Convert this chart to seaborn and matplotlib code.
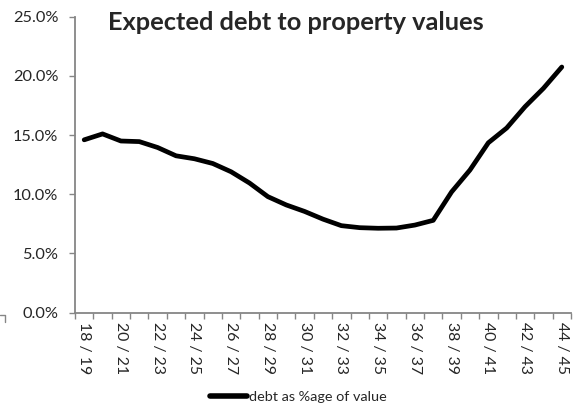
import numpy as np
import pandas as pd
import matplotlib
matplotlib.use('Agg')
import matplotlib.pyplot as plt
from matplotlib.lines import Line2D
import seaborn as sns

# financial years 18/19 .. 44/45
years = [str(y) + ' / ' + str(y + 1) for y in range(18, 45)]
debt_pct = [14.6, 15.1, 14.5, 14.45, 13.95, 13.25, 13.0, 12.6, 11.9, 10.95,
            9.8, 9.1, 8.55, 7.9, 7.35, 7.18, 7.13, 7.15, 7.4, 7.8,
            10.2, 12.05, 14.35, 15.6, 17.4, 18.95, 20.75]
series_name = 'debt as %age of value'

df = pd.DataFrame({'pos': np.arange(len(years)), 'debt': debt_pct})

sns.set_style('white')
plt.rcParams['font.family'] = ['Lato', 'DejaVu Sans']

fig = plt.figure(figsize=(5.73, 4.08), dpi=100)
ax = fig.add_axes([0.1309, 0.2336, 0.8656, 0.7255])

sns.lineplot(data=df, x='pos', y='debt', color='black', linewidth=3.4,
             ax=ax, legend=False)

ax.set_xlim(-0.5, len(years) - 0.5)
ax.set_ylim(0, 25)
ax.set_xlabel('')
ax.set_ylabel('')

grey = '#868686'
for s in ['top', 'right']:
    ax.spines[s].set_visible(False)
for s in ['left', 'bottom']:
    ax.spines[s].set_color(grey)
    ax.spines[s].set_linewidth(1.3)

ax.set_yticks(np.arange(0, 26, 5))
ax.set_yticklabels(['%.1f%%' % v for v in np.arange(0, 26, 5)], fontsize=11.8)
ax.tick_params(axis='y', which='major', length=4.5, width=1, color=grey,
               direction='out', left=True, pad=7.5)

# category labels every other year, tick marks between categories
ax.set_xticks(np.arange(0, len(years), 2))
ax.set_xticklabels(years[::2], rotation=-90, fontsize=11.4)
ax.set_xticks(np.arange(-0.5, len(years), 1), minor=True)
ax.tick_params(axis='x', which='major', length=0, pad=7)
ax.tick_params(axis='x', which='minor', length=4, width=1, color=grey,
               direction='out', bottom=True)

fig.text(0.5166, 0.9265, 'Expected debt to property values', ha='center',
         va='baseline', fontsize=18.3, fontweight='bold')

handle = Line2D([], [], color='black', linewidth=4)
fig.legend([handle], [series_name], loc='center', bbox_to_anchor=(0.52, 0.027),
           frameon=False, fontsize=10.4, handlelength=2.6, handletextpad=0.1)

# small corner mark at the left edge
fig.add_artist(Line2D([0.0, 0.009, 0.009], [0.228, 0.228, 0.212],
                      color=grey, linewidth=1, transform=fig.transFigure))

plt.savefig('out.png', dpi=100)
